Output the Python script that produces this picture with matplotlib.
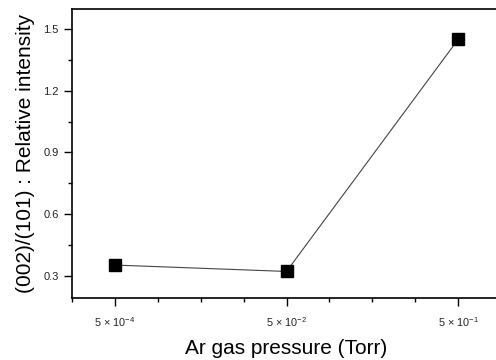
import matplotlib
matplotlib.use("Agg")
import matplotlib.pyplot as plt
from matplotlib.ticker import MultipleLocator, FixedLocator

plt.rcParams['font.family'] = ['Liberation Sans', 'DejaVu Sans']
plt.rcParams['mathtext.default'] = 'regular'

categories = [r'5 × 10$^{-4}$', r'5 × 10$^{-2}$', r'5 × 10$^{-1}$']
values = [0.353, 0.322, 1.449]
x = list(range(len(categories)))

fig = plt.figure(figsize=(4.96, 3.6), dpi=100)
ax = fig.add_axes([72/496, 1-298/360, (501-72)/496, (298-9)/360])

ax.plot(x, values, color='#444444', lw=0.8, zorder=2)
ax.plot(x, values, ls='none', marker='s', ms=9.2, color='black', zorder=3)

ax.set_xlim(-0.25, 2.25)
ax.set_ylim(0.193, 1.597)

ax.xaxis.set_major_locator(FixedLocator(x))
ax.set_xticklabels(categories, fontsize=7.8, color='#222222')
ax.xaxis.set_minor_locator(MultipleLocator(0.25))
ax.yaxis.set_major_locator(MultipleLocator(0.3))
ax.yaxis.set_minor_locator(MultipleLocator(0.15))
ax.tick_params(axis='y', labelsize=8, labelcolor='#222222', pad=4)
ax.tick_params(which='major', direction='out', length=5.5, width=1)
ax.tick_params(which='minor', direction='out', length=3, width=1)
ax.tick_params(axis='x', which='major', pad=7)

ax.spines['right'].set_visible(False)
for s in ['left', 'bottom', 'top']:
    ax.spines[s].set_linewidth(1.2)

ax.set_xlabel('Ar gas pressure (Torr)', fontsize=15, labelpad=7)
ax.set_ylabel('(002)/(101) : Relative intensity', fontsize=15, labelpad=6)

fig.savefig('out.png', dpi=100)
